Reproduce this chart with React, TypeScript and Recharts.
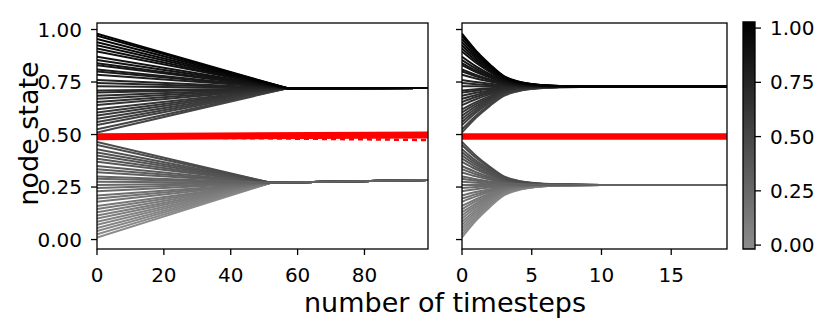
import { LineChart, Line, XAxis, YAxis, ComposedChart, ReferenceArea } from 'recharts';

// initial node states (read from t = 0), in drawing order
const upperStart = [0.51, 0.525, 0.545, 0.56, 0.575, 0.59, 0.605, 0.62, 0.64, 0.655, 0.67, 0.685, 0.7, 0.71, 0.73, 0.745, 0.76, 0.785, 0.8, 0.81, 0.83, 0.84, 0.855, 0.87, 0.895, 0.91, 0.925, 0.94, 0.955, 0.97, 0.98];
const lowerStart = [0.01, 0.025, 0.04, 0.055, 0.07, 0.085, 0.1, 0.115, 0.13, 0.145, 0.16, 0.18, 0.195, 0.21, 0.23, 0.245, 0.26, 0.275, 0.29, 0.32, 0.335, 0.35, 0.37, 0.385, 0.4, 0.415, 0.43, 0.45, 0.465, 0.3];

// left run: straight approach, then flat
const leftUpperTimes = [0, 57, 99];
const leftUpperLevels = [0.72, 0.721];
const leftLowerTimes = [0, 52, 99];
const leftLowerLevels = [0.27, 0.283];
const leftRedTimes = [0, 99];
const leftRed = [0.49, 0.498];
const leftRedDashed = [0.49, 0.474];

// right run: share of the initial gap still left at each timestep
const rightTimes = [0, 1, 2, 3, 4, 5, 7, 10, 19];
const rightRemain = [1, 0.68, 0.42, 0.2, 0.1, 0.05, 0.012, 0, 0];
const rightUpperLevel = 0.728;
const rightLowerLevel = 0.26;
const rightRed = [0.491, 0.491];
const rightRedTimes = [0, 19];

const leftTicks = [0, 20, 40, 60, 80];
const rightTicks = [0, 5, 10, 15];
const stateTicks = [0, 0.25, 0.5, 0.75, 1];
const cbarTicks = [0, 0.25, 0.5, 0.75, 1];

const FONT = '"DejaVu Sans", sans-serif';
const Y_DOMAIN = [-0.045, 1.031];

const grey = (v: number) => {
  const g = Math.round(140 * (1 - v));
  return `rgb(${g},${g},${g})`;
};

type Pt = { t: number; v: number };
type Series = { key: string; data: Pt[]; color: string; width: number; dash?: string; curve: 'linear' | 'monotone' };

const leftSeries: Series[] = [
  ...lowerStart.map((s, i) => ({
    key: `l${i}`,
    data: [{ t: leftLowerTimes[0], v: s }, { t: leftLowerTimes[1], v: leftLowerLevels[0] }, { t: leftLowerTimes[2], v: leftLowerLevels[1] }],
    color: grey(s), width: 2, curve: 'linear' as const,
  })),
  ...upperStart.map((s, i) => ({
    key: `u${i}`,
    data: [{ t: leftUpperTimes[0], v: s }, { t: leftUpperTimes[1], v: leftUpperLevels[0] }, { t: leftUpperTimes[2], v: leftUpperLevels[1] }],
    color: grey(s), width: 2, curve: 'linear' as const,
  })),
  { key: 'rd', data: leftRedTimes.map((t, i) => ({ t, v: leftRedDashed[i] })), color: '#ff0000', width: 2.5, dash: '5 4', curve: 'linear' },
  { key: 'r', data: leftRedTimes.map((t, i) => ({ t, v: leftRed[i] })), color: '#ff0000', width: 7, curve: 'linear' },
];

const rightSeries: Series[] = [
  ...lowerStart.map((s, i) => ({
    key: `l${i}`,
    data: rightTimes.map((t, k) => ({ t, v: rightLowerLevel + (s - rightLowerLevel) * rightRemain[k] })),
    color: grey(s), width: 2, curve: 'monotone' as const,
  })),
  ...upperStart.map((s, i) => ({
    key: `u${i}`,
    data: rightTimes.map((t, k) => ({ t, v: rightUpperLevel + (s - rightUpperLevel) * rightRemain[k] })),
    color: grey(s), width: 2, curve: 'monotone' as const,
  })),
  { key: 'r', data: rightRedTimes.map((t, i) => ({ t, v: rightRed[i] })), color: '#ff0000', width: 6.5, curve: 'linear' },
];

const tickStyle = { fill: '#000', fontSize: 20, fontFamily: FONT };
const tickLine = { stroke: '#000', strokeWidth: 1.3 };

function Panel(props: {
  left: number; width: number; marginLeft: number; yWidth: number; marginRight: number;
  xMax: number; xTicks: number[]; yLabels: boolean; series: Series[];
}) {
  return (
    <div style={{ position: 'absolute', left: props.left, top: 0 }}>
      <LineChart width={props.width} height={334} margin={{ top: 23, right: props.marginRight, bottom: 55, left: props.marginLeft }}>
        <XAxis type="number" dataKey="t" domain={[0, props.xMax]} allowDataOverflow ticks={props.xTicks} interval={0}
          height={30} axisLine={false} tickSize={6} tickMargin={13} tick={tickStyle} tickLine={tickLine} />
        <YAxis type="number" domain={Y_DOMAIN} allowDataOverflow ticks={stateTicks} interval={0} width={props.yWidth}
          axisLine={false} tickSize={6} tickMargin={9} tick={tickStyle} tickLine={tickLine}
          tickFormatter={(v: number) => (props.yLabels ? v.toFixed(2) : '')} />
        {props.series.map((s) => (
          <Line key={s.key} data={s.data} dataKey="v" type={s.curve} stroke={s.color} strokeWidth={s.width}
            strokeDasharray={s.dash} dot={false} activeDot={false} isAnimationActive={false} />
        ))}
      </LineChart>
    </div>
  );
}

function Colorbar() {
  return (
    <div style={{ position: 'absolute', left: 735, top: 0 }}>
      <ComposedChart width={96} height={334} data={[{ x: 0 }, { x: 1 }]} margin={{ top: 22, right: 16, bottom: 85, left: 8 }}>
        <XAxis type="number" dataKey="x" domain={[0, 1]} hide />
        <YAxis orientation="right" type="number" domain={[-0.018, 1.028]} allowDataOverflow ticks={cbarTicks} interval={0}
          width={60} axisLine={false} tickSize={6} tickMargin={9} tick={tickStyle} tickLine={tickLine}
          tickFormatter={(v: number) => v.toFixed(2)} />
        <ReferenceArea y1={-0.018} y2={1.028} fill="url(#cbarGrad)" fillOpacity={1} stroke="#000" strokeWidth={1.3} ifOverflow="visible" />
      </ComposedChart>
    </div>
  );
}

export default function App() {
  return (
    <div style={{ position: 'fixed', left: 0, top: 0, width: 831, height: 334, background: '#fff', fontFamily: FONT }}>
      <svg width={0} height={0} style={{ position: 'absolute' }}>
        <defs>
          <linearGradient id="cbarGrad" x1="0" y1="1" x2="0" y2="0">
            <stop offset="0%" stopColor="rgb(140,140,140)" />
            <stop offset="100%" stopColor="rgb(0,0,0)" />
          </linearGradient>
        </defs>
      </svg>
      <Panel left={0} width={440} marginLeft={47} yWidth={50} marginRight={12} xMax={99} xTicks={leftTicks} yLabels series={leftSeries} />
      <Panel left={440} width={300} marginLeft={12} yWidth={10} marginRight={13} xMax={19} xTicks={rightTicks} yLabels={false} series={rightSeries} />
      <Colorbar />
      <svg width={831} height={334} style={{ position: 'absolute', left: 0, top: 0, pointerEvents: 'none' }}>
        <rect x={97} y={23} width={331} height={226} fill="none" stroke="#000" strokeWidth={1.3} />
        <rect x={462} y={23} width={265} height={226} fill="none" stroke="#000" strokeWidth={1.3} />
        <text x={445} y={312} textAnchor="middle" fontSize={27} fontFamily={FONT} fill="#000">number of timesteps</text>
        <text transform="translate(37.5,133.5) rotate(-90)" textAnchor="middle" fontSize={27} fontFamily={FONT} fill="#000">node state</text>
      </svg>
    </div>
  );
}
